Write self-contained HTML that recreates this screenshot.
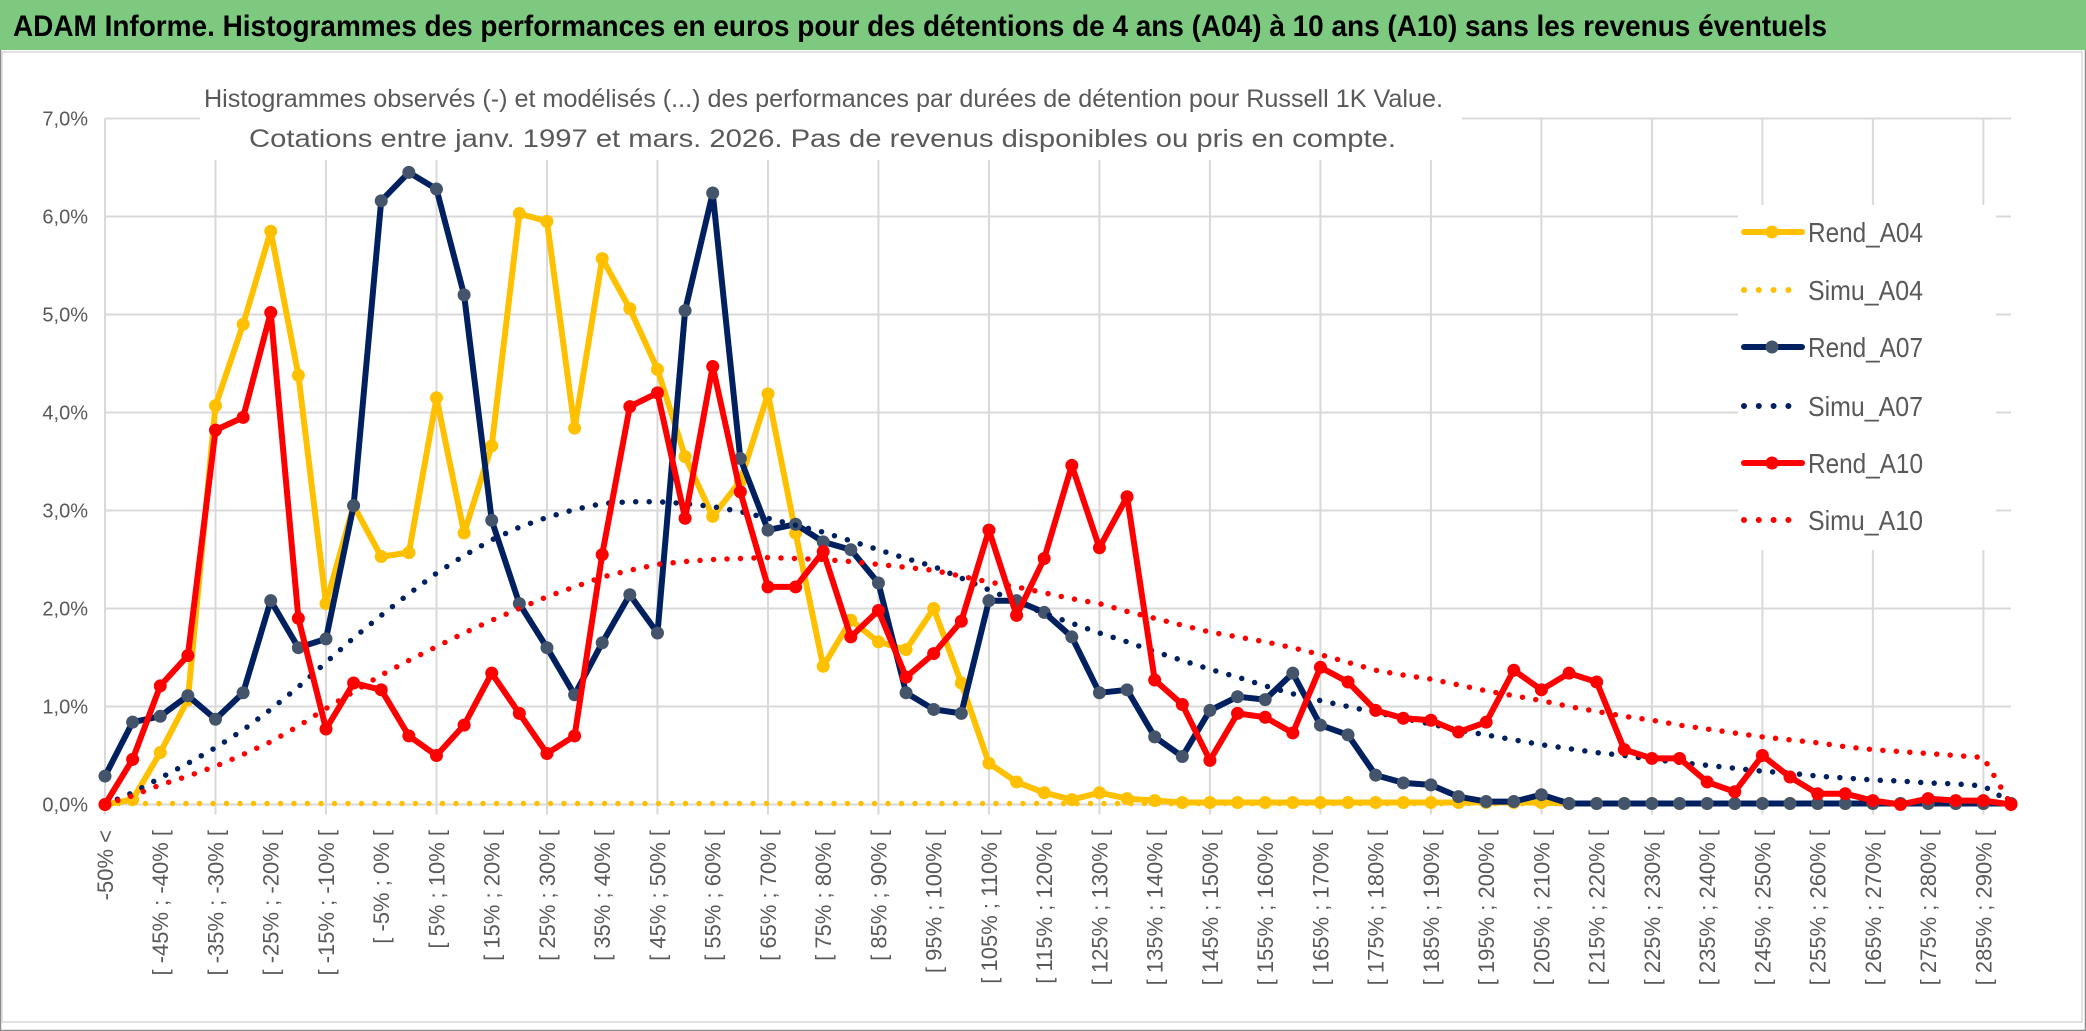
<!DOCTYPE html>
<html><head><meta charset="utf-8"><style>
html,body{margin:0;padding:0;background:#fff;}
svg{display:block;font-family:"Liberation Sans",sans-serif;}
</style></head><body>
<svg id="chart" width="2086" height="1031" viewBox="0 0 2086 1031" xmlns="http://www.w3.org/2000/svg">
<rect x="0" y="0" width="2086" height="1031" fill="#ffffff"/>
<rect x="0.5" y="0.5" width="2085" height="1030" fill="none" stroke="#8c8c8c" stroke-width="1.5"/>
<rect x="0" y="0" width="2086" height="50" fill="#7DC97F"/>
<text x="13" y="36" font-size="30" font-weight="bold" fill="#000" textLength="1814" lengthAdjust="spacingAndGlyphs">ADAM Informe. Histogrammes des performances en euros pour des détentions de 4 ans (A04) à 10 ans (A10) sans les revenus éventuels</text>
<rect x="2" y="52" width="2080" height="970" fill="#fff" stroke="#d9d9d9" stroke-width="1.5"/>
<g id="grid"></g>
<rect x="200" y="76" width="1262" height="84" fill="#fff"/>
<text x="204" y="107" font-size="25" fill="#595959" textLength="1239" lengthAdjust="spacingAndGlyphs">Histogrammes observés (-) et modélisés (...) des performances par durées de détention pour Russell 1K Value.</text>
<text x="249" y="147" font-size="25" fill="#595959" textLength="1147" lengthAdjust="spacingAndGlyphs">Cotations entre janv. 1997 et mars. 2026. Pas de revenus disponibles ou pris en compte.</text>
<g id="yaxis"></g>
<g id="xaxis"></g>
<g id="series"></g>
<rect x="1738" y="205" width="258" height="345" fill="#fff"/>
<g id="legend"></g>
</svg>
<script>
const yTicks = [0,1,2,3,4,5,6,7];
const yTickLabels = ["0,0%","1,0%","2,0%","3,0%","4,0%","5,0%","6,0%","7,0%"];
const categoryCount = 70;
const rendA04 = [0,0.05,0.53,1.07,4.07,4.9,5.85,4.38,2.05,3.05,2.53,2.57,4.15,2.77,3.66,6.03,5.95,3.84,5.57,5.06,4.44,3.55,2.94,3.3,4.19,2.77,1.41,1.88,1.66,1.58,2.0,1.24,0.42,0.23,0.12,0.05,0.12,0.06,0.04,0.02,0.02,0.02,0.02,0.02,0.02,0.02,0.02,0.02,0.02,0.02,0.02,0.02,0.02,0.01,0.01,0.01,0.01,0.01,0.01,0.01,0.01,0.01,0.01,0.01,0.01,0.01,0.01,0.01,0.01,0.01];
const simuA04 = [0.01,0.01,0.01,0.01,0.01,0.01,0.01,0.01,0.01,0.01,0.01,0.01,0.01,0.01,0.01,0.01,0.01,0.01,0.01,0.01,0.01,0.01,0.01,0.01,0.01,0.01,0.01,0.01,0.01,0.01,0.01,0.01,0.01,0.01,0.01,0.01,0.01,0.01,0.01,0.01,0.01,0.01,0.01,0.01,0.01,0.01,0.01,0.01,0.01,0.01,0.01,0.01,0.01,0.01,0.01,0.01,0.01,0.01,0.01,0.01,0.01,0.01,0.01,0.01,0.01,0.01,0.01,0.01,0.01,0.01];
const rendA07 = [0.29,0.84,0.9,1.11,0.87,1.14,2.08,1.6,1.69,3.05,6.16,6.45,6.28,5.2,2.9,2.05,1.6,1.12,1.65,2.14,1.75,5.04,6.24,3.53,2.8,2.86,2.68,2.6,2.26,1.14,0.97,0.93,2.08,2.08,1.96,1.71,1.14,1.17,0.69,0.49,0.96,1.1,1.07,1.34,0.81,0.71,0.3,0.22,0.2,0.08,0.03,0.03,0.1,0.01,0.01,0.01,0.01,0.01,0.01,0.01,0.01,0.01,0.01,0.01,0.01,0.01,0.01,0.01,0.01,0.01];
const simuA07 = [0,0.12,0.27,0.42,0.58,0.76,0.97,1.2,1.45,1.7,1.93,2.15,2.36,2.54,2.7,2.83,2.93,3.01,3.07,3.09,3.09,3.07,3.04,2.99,2.92,2.85,2.78,2.69,2.6,2.51,2.43,2.31,2.19,2.07,1.95,1.85,1.75,1.66,1.56,1.47,1.38,1.3,1.21,1.13,1.06,1.0,0.94,0.88,0.82,0.76,0.71,0.66,0.61,0.57,0.53,0.5,0.46,0.43,0.4,0.37,0.34,0.32,0.29,0.27,0.25,0.24,0.22,0.21,0.19,0.02];
const rendA10 = [0,0.46,1.21,1.52,3.82,3.95,5.02,1.9,0.77,1.24,1.17,0.7,0.5,0.81,1.34,0.93,0.52,0.7,2.55,4.06,4.2,2.92,4.47,3.19,2.22,2.22,2.58,1.71,1.98,1.3,1.54,1.87,2.8,1.93,2.51,3.46,2.62,3.14,1.27,1.02,0.45,0.93,0.89,0.73,1.4,1.25,0.96,0.88,0.86,0.74,0.84,1.37,1.17,1.34,1.25,0.56,0.47,0.47,0.23,0.13,0.5,0.28,0.11,0.11,0.04,0.0,0.06,0.04,0.04,0.0];
const simuA10 = [0,0.09,0.2,0.29,0.39,0.51,0.64,0.8,0.98,1.15,1.32,1.47,1.61,1.75,1.88,2.0,2.12,2.22,2.32,2.39,2.45,2.48,2.5,2.51,2.52,2.51,2.5,2.48,2.45,2.42,2.39,2.33,2.27,2.22,2.16,2.1,2.05,1.97,1.9,1.83,1.76,1.71,1.66,1.6,1.53,1.45,1.37,1.32,1.28,1.22,1.16,1.11,1.06,1.0,0.95,0.9,0.86,0.81,0.77,0.73,0.69,0.66,0.63,0.59,0.56,0.54,0.52,0.5,0.48,0.0];
const seriesNames = ["Rend_A04","Simu_A04","Rend_A07","Simu_A07","Rend_A10","Simu_A10"];

function catLabel(i){
  if(i===0) return "-50% <";
  const a=-55+5*i, b=-50+5*i;
  return "[ "+a+"% ; "+b+"% [";
}
const NS="http://www.w3.org/2000/svg";
const X0=105, X1=2011, Y0=804.5, YU=98;
function xs(i){return X0+i*(X1-X0)/(categoryCount-1);}
function ys(v){return Y0-v*YU;}
function mk(tag,attrs,parent){const e=document.createElementNS(NS,tag);for(const k in attrs)e.setAttribute(k,attrs[k]);parent.appendChild(e);return e;}

const grid=document.getElementById('grid');
yTicks.forEach(function(t){
  const l=mk('line',{x1:X0,x2:X1,y1:ys(t),y2:ys(t),stroke:'#d9d9d9','stroke-width':2},grid);
  
  
});
for(let i=0;i<categoryCount;i+=4){
  const l=mk('line',{x1:xs(i),x2:xs(i),y1:ys(7),y2:Y0+10,stroke:'#d9d9d9','stroke-width':2},grid);
  
  
}
const ya=document.getElementById('yaxis');
yTicks.forEach(function(t,k){
  const tx=mk('text',{x:88,y:ys(t)+7,'font-size':20,fill:'#595959','text-anchor':'end'},ya);
  tx.textContent=yTickLabels[k];
  
  
});
const xa=document.getElementById('xaxis');
for(let i=0;i<categoryCount;i+=2){
  const x=xs(i)+8, y=830;
  const tx=mk('text',{x:x,y:y,'font-size':22,fill:'#595959','text-anchor':'end',transform:'rotate(-90 '+x+' '+y+')'},xa);
  tx.textContent=catLabel(i);
  
  
}
const sl=document.getElementById('series');
function pts(arr){return arr.map(function(v,i){return xs(i).toFixed(1)+','+ys(v).toFixed(1);}).join(' ');}
function solid(arr,color,mcolor,name){
  const g=mk('g',{},sl);
  
  
  const p=mk('polyline',{points:pts(arr),fill:'none',stroke:color,'stroke-width':6,'stroke-linejoin':'round'},g);
  
  
  arr.forEach(function(v,i){
    const c=mk('circle',{cx:xs(i),cy:ys(v),r:6.5,fill:mcolor},g);
    
    
  });
}
function dotted(arr,color,name){
  const p=mk('polyline',{points:pts(arr),fill:'none',stroke:color,'stroke-width':5.5,'stroke-linecap':'round','stroke-dasharray':'0 13.5'},sl);
  
  
}
solid(rendA04,'#FFC000','#FFC000','rend-a04');
dotted(simuA04,'#FFC000','simu-a04');
solid(rendA07,'#002060','#44546A','rend-a07');
dotted(simuA07,'#002060','simu-a07');
solid(rendA10,'#FF0000','#FF0000','rend-a10');
dotted(simuA10,'#FF0000','simu-a10');

const lg=document.getElementById('legend');
const legColors=['#FFC000','#FFC000','#002060','#002060','#FF0000','#FF0000'];
const legMarker=['#FFC000',null,'#44546A',null,'#FF0000',null];
const legY=[232,290,347,406,463,520];
seriesNames.forEach(function(n,k){
  const g=mk('g',{},lg);
  
  
  const y=legY[k];
  if(legMarker[k]){
    mk('line',{x1:1744,x2:1802,y1:y,y2:y,stroke:legColors[k],'stroke-width':6,'stroke-linecap':'round'},g);
    mk('circle',{cx:1772,cy:y,r:6.5,fill:legMarker[k]},g);
  } else {
    const end = k===5 ? 1801 : 1789;
    mk('line',{x1:1744,x2:end,y1:y,y2:y,stroke:legColors[k],'stroke-width':6,'stroke-linecap':'round','stroke-dasharray':'0 14.8'},g);
  }
  const t=mk('text',{x:1808,y:y+10,'font-size':28,fill:'#595959',textLength:115,lengthAdjust:'spacingAndGlyphs'},g);
  t.textContent=n;
});
</script>
</body></html>
